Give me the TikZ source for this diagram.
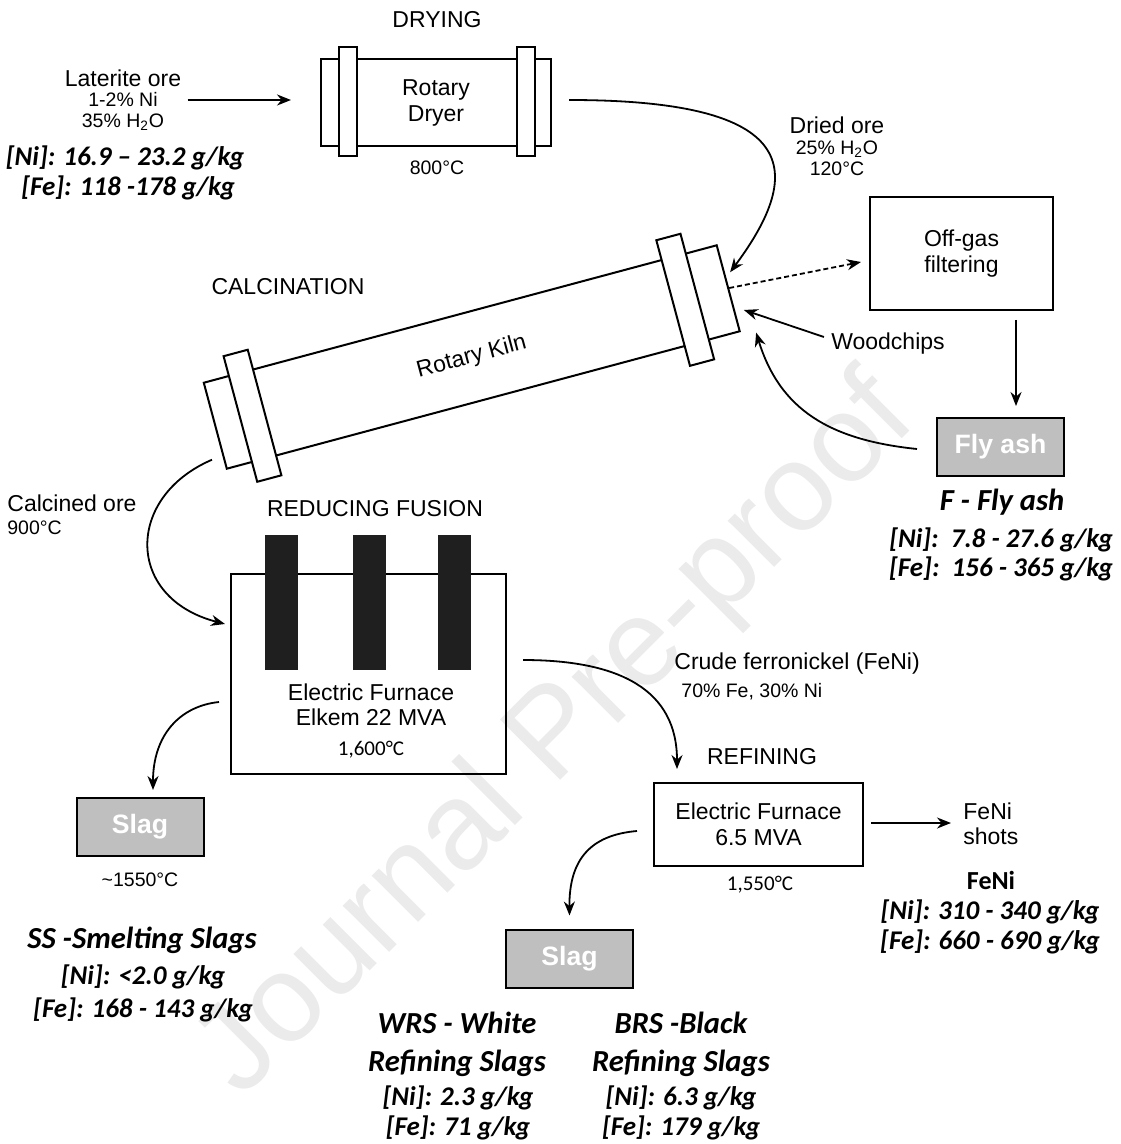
\documentclass[tikz,border=0pt]{standalone}
\usepackage{fontspec}
\setmainfont{Liberation Sans}
\newfontfamily\calfont{Carlito}
\usetikzlibrary{arrows.meta,calc,positioning}
\definecolor{slaggray}{HTML}{BFBFBF}
\definecolor{markgray}{HTML}{EBEBEB}
\tikzset{
  lbl/.style={font=\fontsize{11.5}{12.5}\selectfont, align=center, inner sep=0pt},
  sml/.style={font=\fontsize{9.75}{10.5}\selectfont, align=center, inner sep=0pt},
  tempc/.style={font=\calfont\fontsize{10.5}{12}\selectfont, inner sep=0pt},
  conc/.style={font=\calfont\fontsize{13.5}{15}\selectfont\bfseries\itshape, inner sep=0pt},
  conchead/.style={font=\calfont\fontsize{15.3}{19}\selectfont\bfseries\itshape, align=center, inner sep=0pt},
  concplain/.style={font=\calfont\fontsize{13}{15}\selectfont\bfseries, inner sep=0pt},
  unitbox/.style={draw, line width=1pt, inner sep=0pt, align=center, font=\fontsize{11.5}{13}\selectfont},
  flange/.style={draw, fill=white, line width=1pt, inner sep=0pt},
  slagbox/.style={draw, line width=1pt, fill=slaggray, text=white, inner sep=0pt,
    font=\fontsize{13.3}{15}\selectfont\bfseries, minimum width=63.5pt, minimum height=29pt},
  electrode/.style={fill=black!88, inner sep=0pt, minimum width=16.5pt, minimum height=67.5pt},
  flow/.style={-{Stealth[length=7pt,width=5.5pt]}, line width=0.9pt},
  wmark/.style={rotate=45, text=markgray, font=\fontsize{62}{64}\selectfont, inner sep=0pt}
}

\begin{document}
\begin{tikzpicture}[x=0.5pt, y=-0.5pt]
\useasboundingbox (0,0) rectangle (1120,1144);
\node[wmark] (wm) at (558,738) {Journal Pre-proof};

% drying
\node[lbl] (drying) at (437,20) {DRYING};
\node[unitbox, minimum width=115pt, minimum height=43.5pt] (dryer) at (436,102.5) {Rotary\\Dryer};
\node[flange, minimum width=9pt, minimum height=54.5pt] (dryfl1) at (348,101.5) {};
\node[flange, minimum width=9pt, minimum height=54.5pt] (dryfl2) at (526,101.5) {};
\node[sml] (drytemp) at (437,168) {800°C};

\node[lbl] (ore) at (123,78) {Laterite ore};
\node[sml] (oremix) at (123,111) {1-2\% Ni\\35\% H\textsubscript{2}O};
\node[conc] (oreni) at (125,158) {[Ni]: 16.9 – 23.2 g/kg};
\node[conc] (orefe) at (128,188) {[Fe]: 118 -178 g/kg};
\draw[flow] ($(oremix.east)+(23,-11)$) -- ($(dryer.west)+(-29,-2.5)$);

% calcination
\node[lbl] (calcination) at (288,287) {CALCINATION};
\node[unitbox, rotate=15, minimum width=265.5pt, minimum height=44.5pt] (kiln) at (471.75,357) {Rotary Kiln};
\begin{scope}[shift={(kiln.center)}, rotate=15]
  \node[flange, rotate=15, minimum width=12.5pt, minimum height=65pt] (kilnfl1) at (-227,0) {};
  \node[flange, rotate=15, minimum width=12.5pt, minimum height=65pt] (kilnfl2) at (221,0) {};
  \coordinate (kilnfeed) at (271.5,-15);
  \coordinate (kilnwood) at (275,25);
  \coordinate (kilnash) at (281,50);
  \coordinate (kilnout) at (-277.5,32);
\end{scope}

\node[sml] (dried) at (837,146.5) {{\fontsize{11.5}{12.5}\selectfont Dried ore}\\25\% H\textsubscript{2}O\\120°C};
\draw[flow] ($(dryer.east)+(17,-2.5)$) .. controls (800,100) and (806,170) .. (kilnfeed);

\node[unitbox, minimum width=91.5pt, minimum height=56.5pt] (offgas) at (961.5,253.5) {Off-gas\\filtering};
\draw[flow, dash pattern=on 2.5pt off 1.5pt] (kiln.east) -- ($(offgas.west)+(-8,8.5)$);

\node[lbl] (wood) at (888,344) {Woodchips};
\draw[flow] ($(wood.west)+(-7,-7)$) -- (kilnwood);

\node[slagbox] (flyash) at (1000.5,447) {Fly ash};
\draw[flow] ($(offgas.south)+(54.5,9)$) -- ($(flyash.north)+(15.5,-11)$);
\draw[flow] ($(flyash.west)+(-19,2)$) .. controls (830,440) and (780,410) .. (kilnash);
\node[conchead] (flyashname) at (1002,502) {F - Fly ash};
\node[conc] (flyashni) at (1001,540) {[Ni]:\ \ 7.8 - 27.6 g/kg};
\node[conc] (flyashfe) at (1001,569) {[Fe]:\ \ 156 - 365 g/kg};

% reducing fusion
\node[lbl, anchor=west] (calcore) at (7,503) {Calcined ore};
\node[sml, anchor=west] (calctemp) at (7,528) {900°C};
\node[lbl] (redfusion) at (375,509) {REDUCING FUSION};
\node[unitbox, minimum width=137.5pt, minimum height=100pt] (furnace) at (368.5,674) {};
\foreach \ex [count=\i] in {281.5,369,454}
  \node[electrode] (elec\i) at (\ex,602.5) {};
\node[lbl] (furnacetxt) at (371,705) {Electric Furnace\\Elkem 22 MVA};
\node[tempc] (furnacetemp) at (371,750) {1,600°C};
\draw[flow] (kilnout) .. controls (125,497) and (125,598) .. ($(furnace.west)+(-5,-50)$);

\node[slagbox] (slag1) at (140,827) {Slag};
\draw[flow] ($(furnace.west)+(-11,28)$) .. controls (180,706) and (153,735) .. ($(slag1.north)+(13,-7)$);
\node[sml] (slag1temp) at (140,880) {\textasciitilde1550°C};
\node[conchead] (ss) at (142,940) {SS -Smelting Slags};
\node[conc] (ssni) at (143,977) {[Ni]: <2.0 g/kg};
\node[conc] (ssfe) at (143,1010) {[Fe]: 168 - 143 g/kg};

% refining
\node[lbl, anchor=west] (crude) at (674,664) {Crude ferronickel (FeNi)};
\node[sml, anchor=west] (crudemix) at (681,692) {70\% Fe, 30\% Ni};
\node[lbl] (refining) at (762,757) {REFINING};
\node[unitbox, minimum width=104.5pt, minimum height=41.5pt] (refine) at (758.5,824.5) {Electric Furnace\\6.5 MVA};
\draw[flow] ($(furnace.east)+(16,-14)$) .. controls (620,660) and (677,690) .. ($(refine.north)+(-81.5,-13)$);
\node[tempc] (refinetemp) at (760,885) {1,550°C};

\node[lbl, anchor=west, align=left] (shots) at (963,823.5) {FeNi\\shots};
\draw[flow] ($(refine.east)+(7,-1.5)$) -- ($(shots.west)+(-12,-0.5)$);
\node[concplain] (fenihead) at (991,880) {FeNi};
\node[conc] (fenini) at (990,912) {[Ni]: 310 - 340 g/kg};
\node[conc] (fenife) at (990,942) {[Fe]: 660 - 690 g/kg};

\node[slagbox] (slag2) at (569.5,958.5) {Slag};
\draw[flow] ($(refine.west)+(-16,6.5)$) .. controls (590,835) and (569,860) .. ($(slag2.north)+(0,-13)$);
\node[conchead] (wrs) at (457,1044) {WRS - White\\Refining Slags};
\node[conc] (wrsni) at (458,1098) {[Ni]: 2.3 g/kg};
\node[conc] (wrsfe) at (458,1128) {[Fe]: 71 g/kg};
\node[conchead] (brs) at (681,1044) {BRS -Black\\Refining Slags};
\node[conc] (brsni) at (681,1098) {[Ni]: 6.3 g/kg};
\node[conc] (brsfe) at (681,1128) {[Fe]: 179 g/kg};
\end{tikzpicture}
\end{document}
